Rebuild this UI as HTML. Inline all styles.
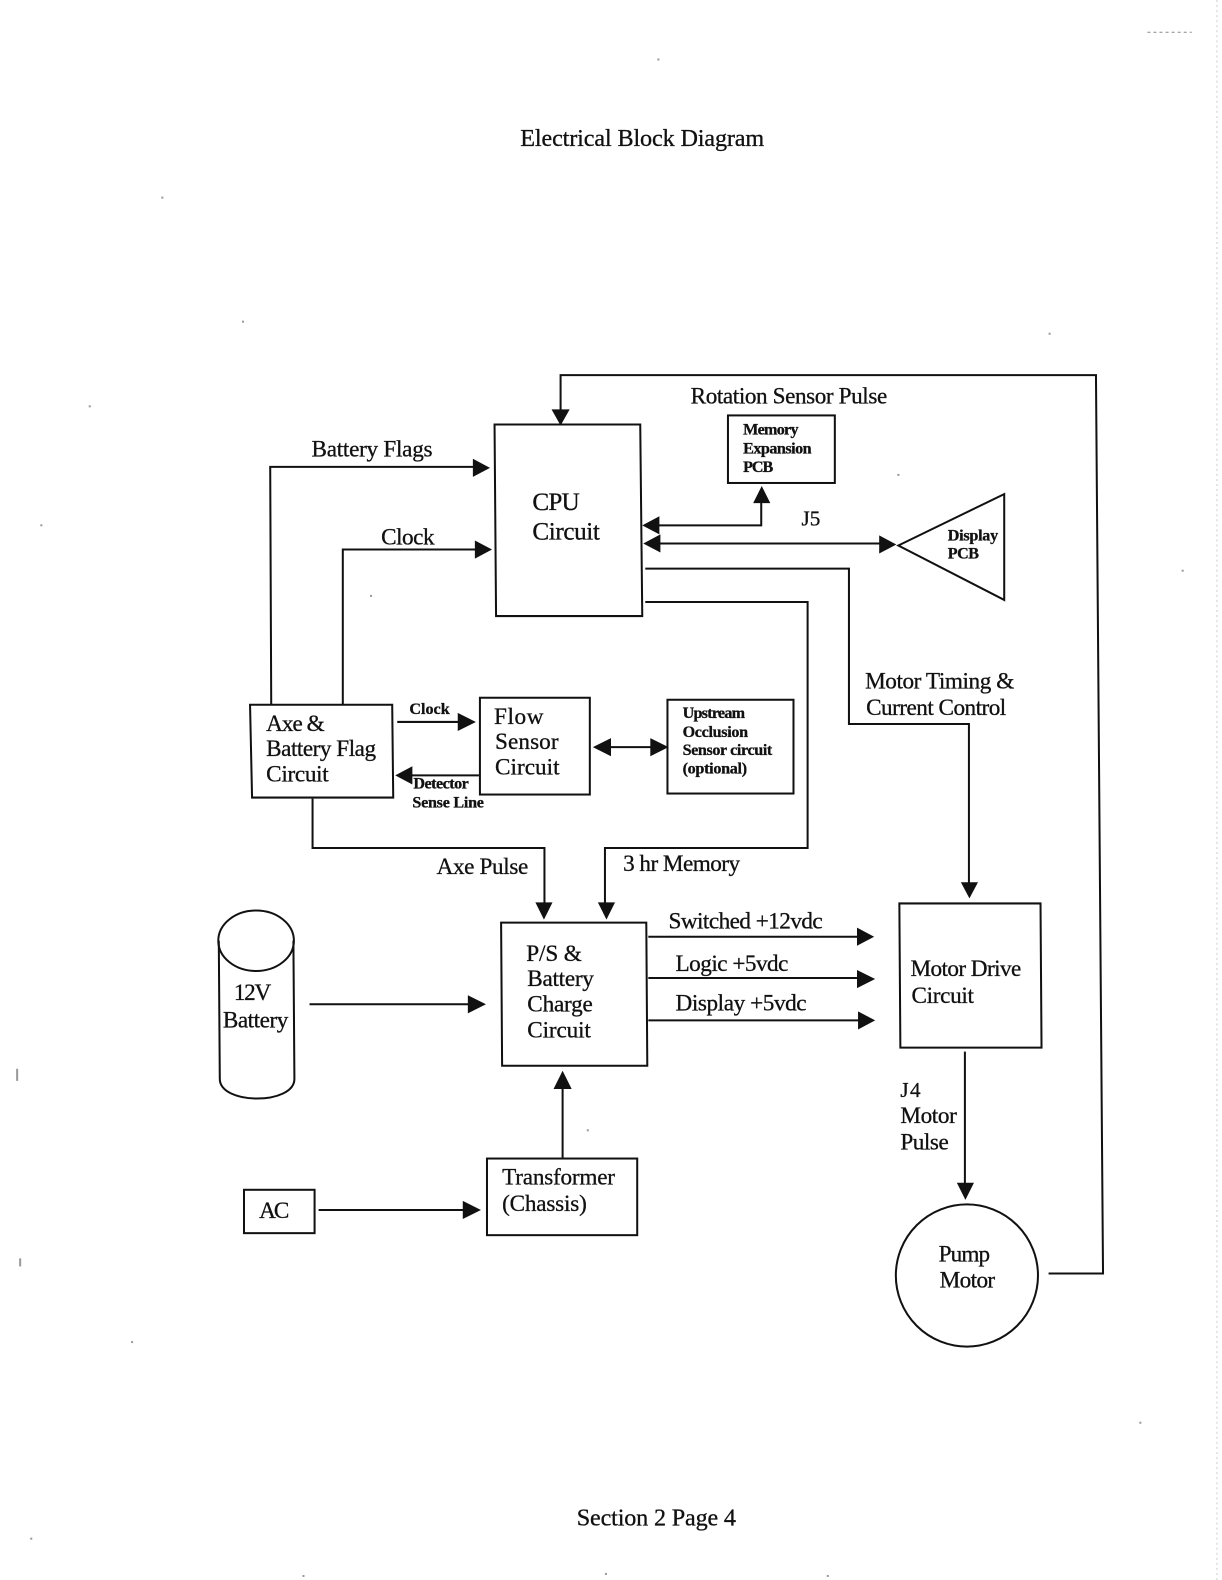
<!DOCTYPE html>
<html><head><meta charset="utf-8">
<style>
html,body{margin:0;padding:0;background:#fff;}
svg{display:block;}
text{font-family:"Liberation Serif",serif;fill:#111;stroke:#111;stroke-width:.3;}
.l{stroke:#111;stroke-width:2;fill:none;}
.a{fill:#111;stroke:none;}
</style></head><body>
<svg width="1222" height="1580" viewBox="0 0 1212 1567" preserveAspectRatio="none" xmlns="http://www.w3.org/2000/svg">
<rect width="1212" height="1567" fill="#fff"/>
<line x1="1207" y1="0" x2="1207" y2="1567" stroke="#ccc" stroke-width="1" stroke-dasharray="2 3"/>
<line x1="1138" y1="32" x2="1182" y2="32" stroke="#888" stroke-width="1" stroke-dasharray="3 3"/>
<text x="516" y="145" font-size="24" textLength="242">Electrical Block Diagram</text>
<text x="572" y="1513" font-size="24" textLength="158">Section 2 Page 4</text>

<!-- boxes -->
<polygon class="l" points="490.500,421 635,421 637,611 492,611"/>
<rect class="l" x="722" y="412" width="106" height="67"/>
<polygon class="l" points="891,541 996,490 996,595"/>
<polygon class="l" points="248,699 389,699 390,791 250,791"/>
<rect class="l" x="476" y="692" width="109" height="96"/>
<rect class="l" x="662" y="694" width="125" height="93"/>
<polygon class="l" points="497,915 641,915 642,1057 498,1057"/>
<polygon class="l" points="892,896 1032,896 1033,1039 893,1039"/>
<rect class="l" x="483" y="1149" width="149" height="76"/>
<rect class="l" x="242" y="1180" width="70" height="43"/>
<circle class="l" cx="959" cy="1265" r="70.5"/>
<!-- battery -->
<path class="l" d="M217 933 L218 1070 C218 1096 292 1096 292 1070 L291 933"/>
<ellipse class="l" cx="254" cy="933" rx="37.500" ry="30"/>

<!-- connectors -->
<path class="l" d="M1040 1263 H1094 L1087 372 H556 V408"/>
<polygon class="a" points="547,406 565,406 556,422"/>
<path class="l" d="M269 699 L268 463 H472"/>
<polygon class="a" points="469,455 486,464 469,473"/>
<path class="l" d="M340 699 V545 H474"/>
<polygon class="a" points="471,536 488,545 471,554"/>
<path class="l" d="M650 521 H755 V496"/>
<polygon class="a" points="637,521 654,512 654,530"/>
<polygon class="a" points="747,499 764,499 755.500,482"/>
<path class="l" d="M650 539 H876"/>
<polygon class="a" points="638,539 655,530 655,548"/>
<polygon class="a" points="872,531 889,540 872,549"/>
<path class="l" d="M640 564 H842 V718 H961 V878"/>
<polygon class="a" points="953,875 970,875 961.500,891"/>
<path class="l" d="M640 597 H801 V841 H600 V897"/>
<polygon class="a" points="593,895 610,895 601.500,912"/>
<path class="l" d="M310 792 V841 H540 V897"/>
<polygon class="a" points="531,895 548,895 539.500,912"/>
<path class="l" d="M394 716 H458"/>
<polygon class="a" points="454,707 472,716 454,725"/>
<path class="l" d="M475 769 H406"/>
<polygon class="a" points="409,760 392,769 409,778"/>
<path class="l" d="M602 741 H650"/>
<polygon class="a" points="606,732 588,741 606,750"/>
<polygon class="a" points="645,732 663,741 645,750"/>
<path class="l" d="M643 929 H854"/>
<polygon class="a" points="850,920 867,929 850,938"/>
<path class="l" d="M643 970 H854"/>
<polygon class="a" points="850,962 868,971 850,980"/>
<path class="l" d="M643 1012 H854"/>
<polygon class="a" points="851,1003 868,1012 851,1021"/>
<path class="l" d="M307 996 H468"/>
<polygon class="a" points="464,987 482,996 464,1005"/>
<path class="l" d="M558 1148 V1076"/>
<polygon class="a" points="549,1080 567,1080 558,1062"/>
<path class="l" d="M316 1200 H462"/>
<polygon class="a" points="459,1191 477,1200 459,1209"/>
<path class="l" d="M957 1043 V1176"/>
<polygon class="a" points="949,1173 966,1173 957.500,1190"/>

<!-- labels -->
<text x="685" y="400" font-size="23" textLength="195">Rotation Sensor Pulse</text>
<text x="737" y="431" font-size="16" font-weight="bold" textLength="55">Memory</text>
<text x="737" y="450" font-size="16" font-weight="bold" textLength="68">Expansion</text>
<text x="737" y="468" font-size="16" font-weight="bold" textLength="30">PCB</text>
<text x="309" y="453" font-size="23" textLength="120">Battery Flags</text>
<text x="378" y="540" font-size="23" textLength="53">Clock</text>
<text x="528" y="506" font-size="25" textLength="47">CPU</text>
<text x="528" y="535" font-size="25" textLength="67">Circuit</text>
<text x="795" y="521" font-size="21">J5</text>
<text x="940" y="536" font-size="16" font-weight="bold" textLength="50">Display</text>
<text x="940" y="554" font-size="16" font-weight="bold" textLength="31">PCB</text>
<text x="858" y="683" font-size="23" textLength="148">Motor Timing &amp;</text>
<text x="859" y="709" font-size="23" textLength="139">Current Control</text>
<text x="264" y="725" font-size="23" textLength="58">Axe &amp;</text>
<text x="264" y="750" font-size="23" textLength="109">Battery Flag</text>
<text x="264" y="775" font-size="23" textLength="62">Circuit</text>
<text x="406" y="708" font-size="16" font-weight="bold" textLength="40">Clock</text>
<text x="410" y="782" font-size="16" font-weight="bold" textLength="55">Detector</text>
<text x="409" y="801" font-size="16" font-weight="bold" textLength="71">Sense Line</text>
<text x="490" y="718" font-size="23" textLength="49">Flow</text>
<text x="491" y="743" font-size="23" textLength="63">Sensor</text>
<text x="491" y="768" font-size="23" textLength="64">Circuit</text>
<text x="677" y="712" font-size="16" font-weight="bold" textLength="62">Upstream</text>
<text x="677" y="731" font-size="16" font-weight="bold" textLength="65">Occlusion</text>
<text x="677" y="749" font-size="16" font-weight="bold" textLength="89">Sensor circuit</text>
<text x="677" y="767" font-size="16" font-weight="bold" textLength="64">(optional)</text>
<text x="433" y="867" font-size="23" textLength="91">Axe Pulse</text>
<text x="618" y="864" font-size="23" textLength="116">3 hr Memory</text>
<text x="663" y="921" font-size="23" textLength="153">Switched +12vdc</text>
<text x="670" y="963" font-size="23" textLength="112">Logic +5vdc</text>
<text x="670" y="1002" font-size="23" textLength="130">Display +5vdc</text>
<text x="522" y="953" font-size="23" textLength="55">P/S &amp;</text>
<text x="523" y="978" font-size="23" textLength="66">Battery</text>
<text x="523" y="1003" font-size="23" textLength="65">Charge</text>
<text x="523" y="1029" font-size="23" textLength="63">Circuit</text>
<text x="903" y="968" font-size="23" textLength="110">Motor Drive</text>
<text x="904" y="995" font-size="23" textLength="62">Circuit</text>
<text x="232" y="992" font-size="23" textLength="37">12V</text>
<text x="221" y="1019" font-size="23" textLength="65">Battery</text>
<text x="498" y="1175" font-size="23" textLength="112">Transformer</text>
<text x="498" y="1201" font-size="23" textLength="84">(Chassis)</text>
<text x="257" y="1208" font-size="23" textLength="30">AC</text>
<text x="893" y="1088" font-size="21" textLength="20">J4</text>
<text x="893" y="1114" font-size="23" textLength="56">Motor</text>
<text x="893" y="1140" font-size="23" textLength="48">Pulse</text>
<text x="931" y="1251" font-size="23" textLength="51">Pump</text>
<text x="932" y="1277" font-size="23" textLength="55">Motor</text>

<!-- scan specks -->
<g fill="#999">
<rect x="652" y="58" width="2" height="2"/><rect x="240" y="318" width="2" height="2"/><rect x="160" y="195" width="2" height="2"/>
<rect x="88" y="402" width="2" height="2"/><rect x="40" y="520" width="2" height="2"/><rect x="1040" y="330" width="2" height="2"/>
<rect x="890" y="470" width="2" height="2"/><rect x="1172" y="565" width="2" height="2"/><rect x="367" y="590" width="2" height="2"/>
<rect x="16" y="1060" width="2" height="12"/><rect x="19" y="1248" width="2" height="8"/><rect x="582" y="1120" width="2" height="2"/>
<rect x="130" y="1330" width="2" height="2"/><rect x="1130" y="1410" width="2" height="2"/><rect x="30" y="1525" width="2" height="2"/>
<rect x="600" y="1560" width="2" height="2"/><rect x="820" y="1562" width="2" height="2"/><rect x="300" y="1562" width="2" height="2"/>
</g>
</svg>
</body></html>
